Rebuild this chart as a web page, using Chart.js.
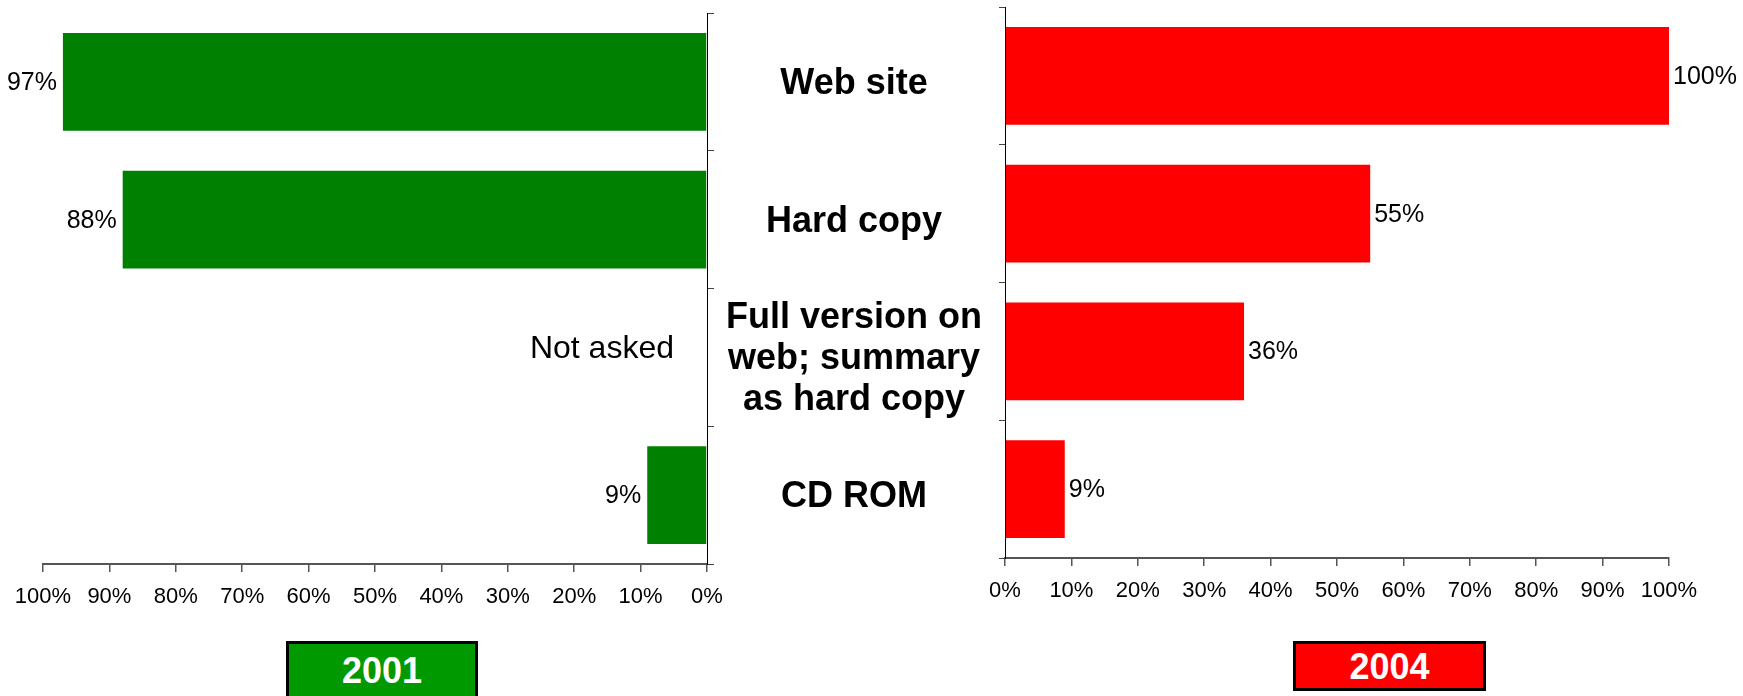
<!DOCTYPE html>
<html>
<head>
<meta charset="utf-8">
<script src="https://cdn.jsdelivr.net/npm/chart.js@4/dist/chart.umd.min.js"></script>
<style>
  html, body { margin: 0; padding: 0; background: #fff; }
  body { width: 1743px; height: 696px; position: relative; overflow: hidden; font-family: "Liberation Sans", Arial, sans-serif; }
  canvas { position: absolute; top: 0; }
  #c2001 { left: 0; }
  #c2004 { left: 620px; }
  .year { position: absolute; box-sizing: border-box; border: 3px solid #000; color: #fff; font-weight: bold; font-size: 36px; text-align: center; }
  #y2001 { left: 286px; top: 641px; width: 192px; height: 58px; line-height: 54px; background: #009900; }
  #y2004 { left: 1293px; top: 641px; width: 193px; height: 50px; line-height: 45px; background: #ff0000; }
</style>
</head>
<body>
<canvas id="c2001" width="760" height="696"></canvas>
<canvas id="c2004" width="1123" height="696"></canvas>
<div class="year" id="y2001">2001</div>
<div class="year" id="y2004">2004</div>
<script>
// Survey: preferred formats for receiving the report
const categories = ['Web site', 'Hard copy', ['Full version on', 'web; summary', 'as hard copy'], 'CD ROM'];
const values2001 = [97, 88, null, 9];   // third option was not asked in 2001
const values2004 = [100, 55, 36, 9];
const missingLabel = 'Not asked';
const axisMin = 0, axisMax = 100, axisStep = 10;

const FONT = '"Liberation Sans", Arial, sans-serif';
Chart.defaults.font.family = FONT;
Chart.defaults.color = '#000';

const pct = v => v + '%';

// draws the value next to each bar (and a note for missing values)
const valueLabels = {
  id: 'valueLabels',
  afterDatasetsDraw(chart, args, opts) {
    const ctx = chart.ctx;
    const meta = chart.getDatasetMeta(0);
    const data = chart.data.datasets[0].data;
    const yScale = chart.scales.y;
    ctx.save();
    ctx.fillStyle = '#000';
    ctx.textBaseline = 'middle';
    data.forEach((v, i) => {
      const y = yScale.getPixelForValue(i);
      if (v === null) {
        ctx.font = '32px ' + FONT;
        ctx.textAlign = 'right';
        ctx.fillText(missingLabel, chart.chartArea.right - 33, y - 8);
        return;
      }
      const el = meta.data[i];
      ctx.font = '25px ' + FONT;
      if (opts.side === 'left') {
        ctx.textAlign = 'right';
        ctx.fillText(pct(v), el.x - 6, y + 1);
      } else {
        ctx.textAlign = 'left';
        ctx.fillText(pct(v), el.x + 4, y + 1);
      }
    });
    ctx.restore();
  }
};

const baseX = (reverse, bottomH) => ({
  type: 'linear',
  min: axisMin, max: axisMax, reverse,
  grid: { drawOnChartArea: false, drawTicks: true, tickLength: 8, color: '#555', lineWidth: 1.5 },
  border: { display: true, color: '#555', width: 2 },
  ticks: { stepSize: axisStep, callback: v => pct(v), font: { size: 22 }, padding: 12, maxRotation: 0, autoSkip: false, color: '#000' },
  afterFit: s => { s.height = bottomH; }
});

// 2001 panel: bars grow to the left
new Chart(document.getElementById('c2001'), {
  type: 'bar',
  data: {
    labels: categories,
    datasets: [{ data: values2001, backgroundColor: '#008000', barPercentage: 0.71, categoryPercentage: 1 }]
  },
  options: {
    indexAxis: 'y',
    responsive: false, animation: false, devicePixelRatio: 1,
    layout: { padding: { left: 43, top: 13, right: 0, bottom: 0 } },
    plugins: { legend: { display: false }, tooltip: { enabled: false }, valueLabels: { side: 'left' } },
    scales: {
      x: baseX(true, 132),
      y: {
        type: 'category', position: 'right',
        grid: { drawOnChartArea: false, drawTicks: true, tickLength: 7, color: '#444', offset: true },
        border: { display: true, color: '#000', width: 1 },
        ticks: { display: false },
        afterFit: s => { s.width = 53; s.paddingTop = 0; s.paddingBottom = 0; }
      }
    }
  },
  plugins: [valueLabels]
});

// 2004 panel: bars grow to the right, category names sit between the panels
new Chart(document.getElementById('c2004'), {
  type: 'bar',
  data: {
    labels: categories,
    datasets: [{ data: values2004, backgroundColor: '#ff0000', barPercentage: 0.71, categoryPercentage: 1 }]
  },
  options: {
    indexAxis: 'y',
    responsive: false, animation: false, devicePixelRatio: 1,
    layout: { padding: { left: 0, top: 7, right: 74, bottom: 0 } },
    plugins: { legend: { display: false }, tooltip: { enabled: false }, valueLabels: { side: 'right' } },
    scales: {
      x: baseX(false, 138),
      y: {
        type: 'category', position: 'left',
        grid: { drawOnChartArea: false, drawTicks: true, tickLength: 6, color: '#444', offset: true },
        border: { display: true, color: '#000', width: 1 },
        ticks: { crossAlign: 'center', padding: 17, labelOffset: 8, font: { size: 36, weight: 'bold', lineHeight: 1.14 }, color: '#000' },
        afterFit: s => { s.width = 385; s.paddingTop = 0; s.paddingBottom = 0; }
      }
    }
  },
  plugins: [valueLabels]
});
</script>
</body>
</html>
